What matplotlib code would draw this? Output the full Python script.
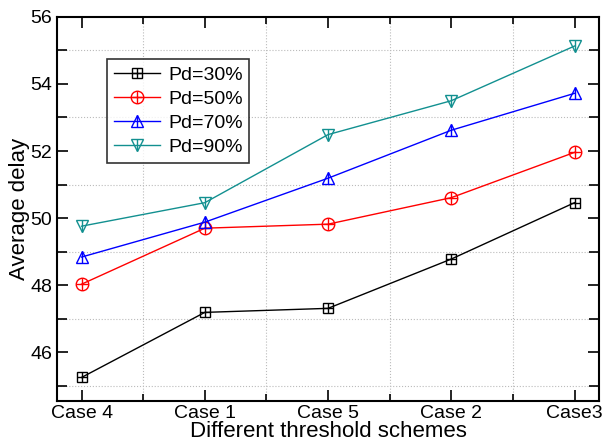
import numpy as np
import matplotlib.pyplot as plt
from matplotlib.ticker import MultipleLocator

plt.rcParams['font.family'] = ['Liberation Sans', 'DejaVu Sans']

cases = ['Case 4', 'Case 1', 'Case 5', 'Case 2', 'Case3']
pd30 = [45.25, 47.19, 47.31, 48.78, 50.46]
pd50 = [48.03, 49.70, 49.82, 50.61, 51.96]
pd70 = [48.84, 49.88, 51.19, 52.62, 53.72]
pd90 = [49.76, 50.46, 52.49, 53.50, 55.13]
labels = ['Pd=30%', 'Pd=50%', 'Pd=70%', 'Pd=90%']

x = np.arange(len(cases))

fig = plt.figure(figsize=(6.12, 4.44), dpi=100)
ax = fig.add_axes([0.093, 0.097, 0.886, 0.865])

styles = [
    (pd30, 'black', 's', '+', 7),
    (pd50, 'red', 'o', '+', 9),
    (pd70, 'blue', '^', '|', 8),
    (pd90, '#129090', 'v', '|', 8),
]

handles = []
for (vals, col, m, m2, ms), lab in zip(styles, labels):
    l1, = ax.plot(x, vals, color=col, lw=1, marker=m, ms=ms, mfc='none',
                  mec=col, mew=1)
    l2, = ax.plot(x, vals, ls='none', marker=m2, ms=ms, mec=col, mew=1)
    handles.append((l1, l2))

ax.set_xlim(-0.2, 4.2)
ax.set_ylim(44.55, 56)
ax.set_xticks(x)
ax.set_xticklabels(cases)
ax.xaxis.set_minor_locator(MultipleLocator(0.5))
ax.yaxis.set_major_locator(MultipleLocator(2))
ax.yaxis.set_minor_locator(MultipleLocator(1))

ax.tick_params(which='both', direction='in', top=True, right=True,
               labelsize=14, width=1.2)
ax.tick_params(which='major', length=8)
ax.tick_params(which='minor', length=5)
ax.tick_params(axis='y', which='minor', length=7)
ax.tick_params(axis='x', which='major', pad=3)

ax.grid(which='minor', color='#bbbbbb', ls=':', lw=0.8)
ax.grid(which='major', visible=False)
for sp in ax.spines.values():
    sp.set_linewidth(1.5)

ax.set_xlabel('Different threshold schemes', fontsize=16, labelpad=-1)
ax.set_ylabel('Average delay', fontsize=16, labelpad=0)

leg = ax.legend(handles, labels, loc='upper left',
                bbox_to_anchor=(0.092, 0.89), borderaxespad=0, fontsize=14,
                frameon=True, fancybox=False, edgecolor='black',
                handlelength=2.4, borderpad=0.35, labelspacing=0.34,
                handletextpad=0.4)
leg.get_frame().set_linewidth(1.2)

fig.savefig('out.png', dpi=100)
